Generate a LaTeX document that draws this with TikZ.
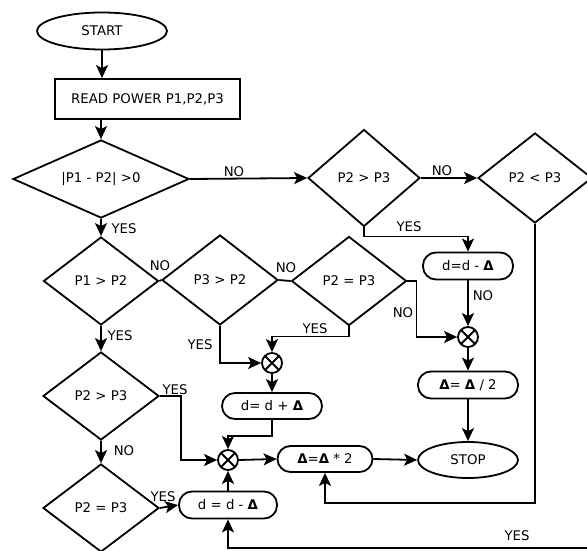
\documentclass[tikz,border=0pt]{standalone}
\usepackage{fontspec}
\setmainfont{DejaVu Sans}
\usetikzlibrary{shapes.geometric,arrows.meta}
\newcommand{\dlt}{{\bfseries Δ}}
\begin{document}
\begin{tikzpicture}[x=1pt,y=-1pt,
  every node/.style={font=\fontsize{13.3}{16}\selectfont},
  conn/.style={draw, line width=1.8pt},
  arr/.style={conn, -{Stealth[length=13pt,width=12pt,inset=3pt]}},
  dia/.style={draw, line width=1.8pt, diamond, aspect=2, inner sep=0pt},
  stad/.style={draw, line width=1.8pt, rounded corners=13pt, inner sep=0pt, minimum height=27pt},
  ell/.style={draw, line width=1.8pt, ellipse, inner sep=0pt},
  junc/.style={draw, line width=1.8pt, circle, minimum size=20pt, inner sep=0pt,
    path picture={\draw[line width=1.8pt]
      (path picture bounding box.north west) -- (path picture bounding box.south east)
      (path picture bounding box.north east) -- (path picture bounding box.south west);}},
  lbl/.style={inner sep=0pt}]
\useasboundingbox (0,0) rectangle (587,551);

% nodes
\node[ell, minimum width=130pt, minimum height=37pt] (start) at (102,31) {START};
\node[draw, line width=1.8pt, minimum width=185pt, minimum height=40pt, inner sep=0pt] (read) at (147.5,99) {READ POWER P1,P2,P3};
\node[dia, minimum width=176pt, minimum height=78pt] (d1) at (101,179) {|P1 - P2| >0};
\node[dia, minimum width=112pt, minimum height=97pt] (d2) at (364,178) {P2 > P3};
\node[dia, minimum width=114pt, minimum height=90pt] (d3) at (535,178) {P2 < P3};
\node[dia, minimum width=115pt, minimum height=88pt] (d4) at (101,281) {P1 > P2};
\node[dia, minimum width=116pt, minimum height=90pt] (d5) at (220,280) {P3 > P2};
\node[dia, minimum width=115pt, minimum height=89pt] (d6) at (349,281) {P2 = P3};
\node[dia, minimum width=116pt, minimum height=88pt] (d7) at (101,396) {P2 > P3};
\node[dia, minimum width=116pt, minimum height=88pt] (d8) at (101,508) {P2 = P3};

\node[stad, minimum width=90pt] (dr) at (468,266) {d=d - \dlt};
\node[stad, minimum width=100pt, minimum height=26pt] (ddp) at (272,406) {d= d + \dlt};
\node[stad, minimum width=98pt] (dl) at (228,505) {d = d - \dlt};
\node[stad, minimum width=100pt] (half) at (468,385) {\dlt= \dlt\ / 2};
\node[stad, minimum width=95pt, minimum height=26pt] (dbl) at (325,459) {\dlt=\dlt\ * 2};
\node[ell, minimum width=100pt, minimum height=36pt] (stop) at (468,460) {STOP};

\node[junc] (cr) at (468,337) {};
\node[junc] (cm) at (272,363) {};
\node[junc] (cl) at (228,460) {};

\coordinate (br) at (600,548);

% connectors
\draw[arr] (start.south) -- (start.south |- read.north);
\draw[arr] (read.south -| d1.north) -- (d1.north);
\draw[arr] (d1.east) -- (d2.west);
\draw[arr] (d2.east) -- (d3.west);
\draw[arr] (d2.south) -- ++(0,9) -| (dr.north);
\draw[arr] (dr.south) -- (cr.north);
\draw[arr] (d6.east) -- ++(9,0) |- (cr.west);
\draw[arr] (cr.south) -- (half.north);
\draw[arr] (half.south) -- (stop.north);
\draw[arr] (d3.south) -- ++(0,279) -| (dbl.south);
\draw[arr] (d3.east) -- (d3.east -| br) -- (br) -| (dl.south);
\draw[arr] (d1.south) -- (d4.north);
\draw[conn] (d4.east) -- (d5.west);
\draw[conn] (d5.east) -- (d6.west);
\draw[arr] (d6.south) -- ++(0,10) -| (cm.north);
\draw[arr] (d5.south) |- (cm.west);
\draw[arr] (cm.south) -- (ddp.north);
\draw[arr] (ddp.south) -- ++(0,16) -| (cl.north);
\draw[arr] (d4.south) -- (d7.north);
\draw[arr] (d7.east) -- ++(21,0) |- (cl.west);
\draw[arr] (d7.south) -- (d8.north);
\draw[arr] (d8.east) -- (dl.west);
\draw[arr] (dl.north) -- (cl.south);
\draw[arr] (cl.east) -- (dbl.west);
\draw[arr] (dbl.east) -- (stop.west);

% labels
\node[lbl] (l1) at (234,172) {NO};
\node[lbl] (l2) at (442,171) {NO};
\node[lbl] (l3) at (409,227) {YES};
\node[lbl] (l4) at (483,296) {NO};
\node[lbl] (l5) at (403,313) {NO};
\node[lbl] (l6) at (517,536) {YES};
\node[lbl] (l7) at (124,229) {YES};
\node[lbl] (l8) at (160,266) {NO};
\node[lbl] (l9) at (286,268) {NO};
\node[lbl] (l10) at (315,329) {YES};
\node[lbl] (l11) at (200,345) {YES};
\node[lbl] (l12) at (120,336) {YES};
\node[lbl] (l13) at (175,390) {YES};
\node[lbl] (l14) at (124,451) {NO};
\node[lbl] (l15) at (163,497) {YES};
\end{tikzpicture}
\end{document}
